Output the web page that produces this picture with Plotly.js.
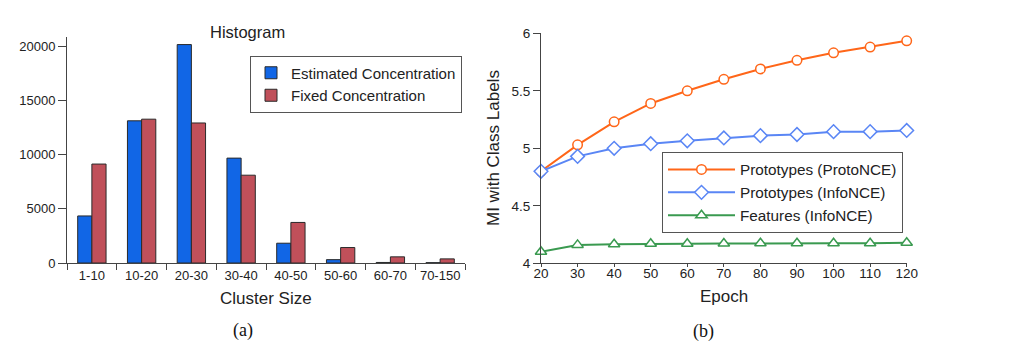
<!DOCTYPE html>
<html>
<head>
<meta charset="utf-8">
<script src="https://cdn.plot.ly/plotly-3.0.1.min.js"></script>
<style>html,body{margin:0;padding:0;background:#fff;}#chart{width:1024px;height:349px;}</style>
</head>
<body>
<div id="chart"></div>
<script>
// Histogram (a)
const clusterSizes = ["1-10","10-20","20-30","30-40","40-50","50-60","60-70","70-150"];
const estimatedConcentration = [4350, 13150, 20200, 9700, 1830, 310, 50, 30];
const fixedConcentration = [9150, 13300, 12950, 8120, 3750, 1430, 570, 380];
const countTicks = [0, 5000, 10000, 15000, 20000];
const countTickLabels = ["0", "5000", "10000", "15000", "20000"];

// MI curves (b)
const epochs = [20, 30, 40, 50, 60, 70, 80, 90, 100, 110, 120];
const protoProtoNCE = [4.80, 5.03, 5.23, 5.39, 5.50, 5.60, 5.69, 5.765, 5.83, 5.88, 5.935];
const protoInfoNCE = [4.80, 4.93, 5.00, 5.04, 5.065, 5.09, 5.11, 5.12, 5.145, 5.145, 5.155];
const featuresInfoNCE = [4.10, 4.16, 4.165, 4.17, 4.17, 4.172, 4.175, 4.175, 4.175, 4.175, 4.178];
const miTicks = [4, 4.5, 5, 5.5, 6];
const miTickLabels = ["4", "4.5", "5", "5.5", "6"];

const FONT = 'Liberation Sans, Arial, Helvetica, sans-serif';
const W = 1024, H = 349;
const px = v => v / W;
const py = v => (H - v) / H;

const barLine = {color: '#2a2a2a', width: 1};

const traces = [
  {type: 'bar', name: 'Estimated Concentration', x: clusterSizes, y: estimatedConcentration,
   xaxis: 'x', yaxis: 'y', marker: {color: '#1166E6', line: barLine}, legend: 'legend'},
  {type: 'bar', name: 'Fixed Concentration', x: clusterSizes, y: fixedConcentration,
   xaxis: 'x', yaxis: 'y', marker: {color: '#C0505A', line: barLine}, legend: 'legend'},
  {type: 'scatter', mode: 'lines+markers', name: 'Prototypes (ProtoNCE)', x: epochs, y: protoProtoNCE,
   xaxis: 'x2', yaxis: 'y2', cliponaxis: false, legend: 'legend2',
   line: {color: '#FF6619', width: 2},
   marker: {symbol: 'circle', size: 9.5, color: '#ffffff', line: {color: '#FF6619', width: 1.5}}},
  {type: 'scatter', mode: 'lines+markers', name: 'Prototypes (InfoNCE)', x: epochs, y: protoInfoNCE,
   xaxis: 'x2', yaxis: 'y2', cliponaxis: false, legend: 'legend2',
   line: {color: '#5A86F5', width: 2},
   marker: {symbol: 'diamond', size: 10.5, color: '#ffffff', line: {color: '#5A86F5', width: 1.5}}},
  {type: 'scatter', mode: 'lines+markers', name: 'Features (InfoNCE)', x: epochs, y: featuresInfoNCE,
   xaxis: 'x2', yaxis: 'y2', cliponaxis: false, legend: 'legend2',
   line: {color: '#3A9A50', width: 2},
   marker: {symbol: 'triangle-up', size: 10, color: '#ffffff', line: {color: '#3A9A50', width: 1.5}}}
];

const axisCommon = {
  showline: true, linecolor: '#444', linewidth: 1, showgrid: false, zeroline: false,
  ticks: 'outside', tickcolor: '#444', tickwidth: 1,
  tickfont: {family: FONT, size: 13, color: '#222'}, fixedrange: true
};

const layout = {
  width: W, height: H,
  margin: {l: 0, r: 0, t: 0, b: 0},
  paper_bgcolor: '#fff', plot_bgcolor: '#fff',
  font: {family: FONT, color: '#222'},
  barmode: 'group', bargap: 0.43, bargroupgap: 0,
  xaxis: Object.assign({}, axisCommon, {
    domain: [px(67), px(465)], anchor: 'y', type: 'category',
    tickson: 'boundaries', ticklen: 6, range: [-0.5, 7.5]
  }),
  yaxis: Object.assign({}, axisCommon, {
    domain: [py(263), py(37)], anchor: 'x', range: [0, 20900],
    tickvals: countTicks, ticktext: countTickLabels, ticklen: 8
  }),
  xaxis2: Object.assign({}, axisCommon, {
    domain: [px(541), px(906.7)], anchor: 'y2', range: [20, 120],
    tickvals: epochs, ticklen: 3, ticklabelstandoff: -6,
    tickfont: {family: FONT, size: 13.5, color: '#222'}
  }),
  yaxis2: Object.assign({}, axisCommon, {
    domain: [py(263.3), py(33.3)], anchor: 'x2', range: [4, 6],
    tickvals: miTicks, ticktext: miTickLabels, ticklen: 7,
    tickfont: {family: FONT, size: 13.5, color: '#222'}
  }),
  legend: {
    x: px(250), y: py(55.5), xanchor: 'left', yanchor: 'top',
    bgcolor: '#fff', bordercolor: '#555', borderwidth: 1,
    font: {family: FONT, size: 15, color: '#222'}, itemwidth: 30, tracegroupgap: 0
  },
  legend2: {
    x: px(662), y: py(152), xanchor: 'left', yanchor: 'top',
    bgcolor: '#fff', bordercolor: '#555', borderwidth: 1,
    font: {family: FONT, size: 15.3, color: '#222'}, itemwidth: 67, tracegroupgap: 0
  },
  annotations: [
    {text: 'Histogram', x: px(247), y: py(31.7), xref: 'paper', yref: 'paper',
     xanchor: 'center', yanchor: 'middle', showarrow: false, font: {family: FONT, size: 16.5, color: '#222'}},
    {text: 'Cluster Size', x: px(266), y: py(298), xref: 'paper', yref: 'paper',
     xanchor: 'center', yanchor: 'middle', showarrow: false, font: {family: FONT, size: 17, color: '#222'}},
    {text: 'Epoch', x: px(724), y: py(296.7), xref: 'paper', yref: 'paper',
     xanchor: 'center', yanchor: 'middle', showarrow: false, font: {family: FONT, size: 17, color: '#222'}},
    {text: 'MI with Class Labels', x: px(493), y: py(148), xref: 'paper', yref: 'paper',
     xanchor: 'center', yanchor: 'middle', showarrow: false, textangle: -90,
     font: {family: FONT, size: 17, color: '#222'}},
    {text: '(a)', x: px(242.5), y: py(330.5), xref: 'paper', yref: 'paper',
     xanchor: 'center', yanchor: 'middle', showarrow: false,
     font: {family: 'Liberation Serif, Times New Roman, serif', size: 18, color: '#111'}},
    {text: '(b)', x: px(703), y: py(331.5), xref: 'paper', yref: 'paper',
     xanchor: 'center', yanchor: 'middle', showarrow: false,
     font: {family: 'Liberation Serif, Times New Roman, serif', size: 18, color: '#111'}}
  ]
};

Plotly.newPlot('chart', traces, layout, {displayModeBar: false, staticPlot: true});
</script>
</body>
</html>
